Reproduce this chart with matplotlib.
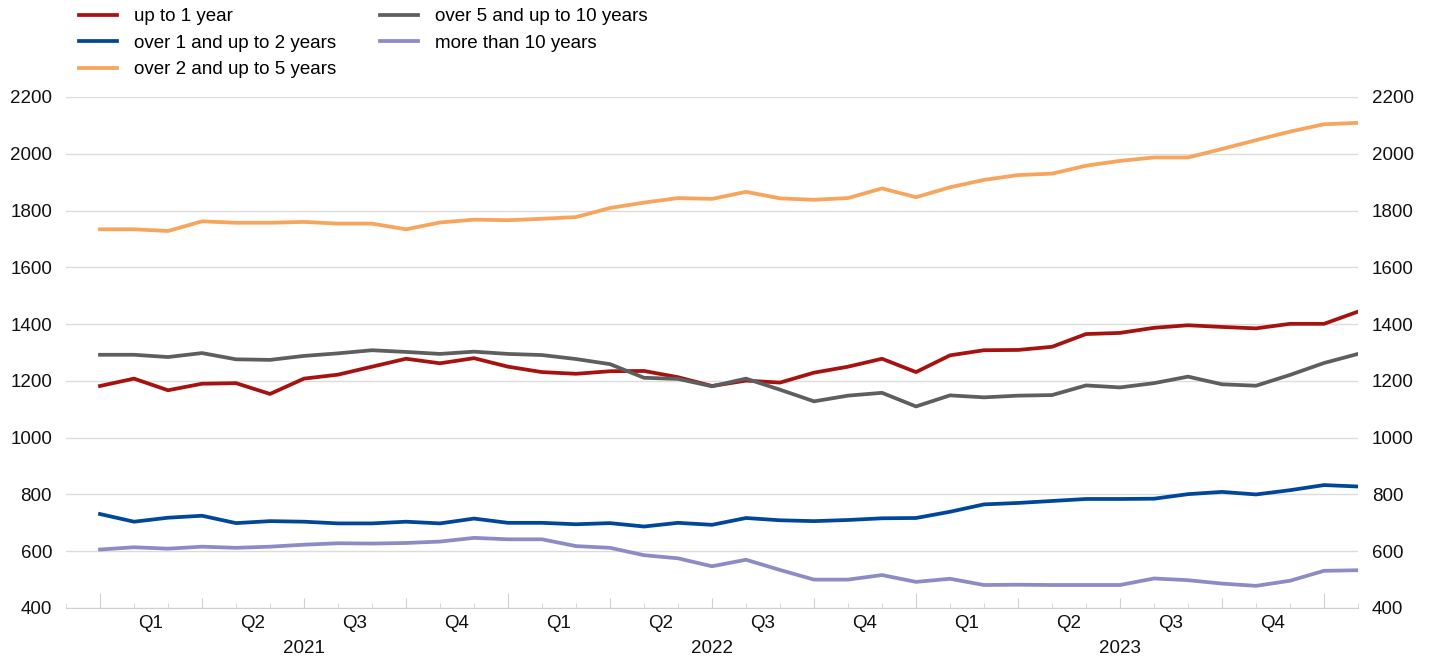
import matplotlib
matplotlib.use("Agg")
import matplotlib.pyplot as plt
import matplotlib.transforms as mtransforms

plt.rcParams['font.family'] = ['Liberation Sans', 'DejaVu Sans']

# monthly observations, index 0 = first month of 2021
up_to_1 = [1182, 1208, 1167, 1190, 1192, 1154, 1208, 1222, 1250, 1278,
           1262, 1280, 1250, 1231, 1225, 1234, 1235, 1213, 1182, 1201,
           1194, 1229, 1250, 1278, 1231, 1290, 1308, 1309, 1320, 1365,
           1369, 1387, 1396, 1390, 1385, 1401, 1401, 1444]
over_1_to_2 = [731, 704, 718, 725, 699, 706, 704, 698, 698, 704,
               698, 715, 700, 700, 695, 699, 687, 700, 693, 717,
               709, 706, 710, 716, 717, 739, 765, 770, 777, 784,
               784, 785, 801, 809, 800, 815, 833, 828]
over_2_to_5 = [1734, 1734, 1728, 1762, 1757, 1757, 1760, 1754, 1754, 1734,
               1758, 1768, 1766, 1771, 1777, 1809, 1828, 1844, 1841, 1866,
               1843, 1838, 1844, 1878, 1847, 1882, 1908, 1925, 1930, 1958,
               1975, 1987, 1987, 2017, 2048, 2078, 2104, 2109]
over_5_to_10 = [1292, 1292, 1284, 1298, 1276, 1274, 1288, 1297, 1308, 1302,
                1295, 1303, 1295, 1291, 1277, 1259, 1211, 1207, 1181, 1208,
                1169, 1128, 1148, 1158, 1110, 1149, 1142, 1148, 1150, 1184,
                1177, 1192, 1215, 1188, 1183, 1221, 1263, 1295]
over_10 = [606, 614, 609, 616, 612, 616, 623, 628, 627, 629,
           634, 647, 642, 642, 618, 612, 586, 575, 547, 570,
           534, 500, 500, 516, 492, 503, 481, 482, 481, 481,
           481, 504, 498, 486, 478, 496, 531, 533]

series = [
    ("up to 1 year", up_to_1, "#a6120f"),
    ("over 1 and up to 2 years", over_1_to_2, "#00479a"),
    ("over 2 and up to 5 years", over_2_to_5, "#f7a45c"),
    ("over 5 and up to 10 years", over_5_to_10, "#5e5e5e"),
    ("more than 10 years", over_10, "#8b8bc6"),
]

years = ["2021", "2022", "2023"]
quarters = ["Q1", "Q2", "Q3", "Q4"]

months = list(range(len(up_to_1)))

fig = plt.figure(figsize=(14.37, 6.6), dpi=100)
ax = fig.add_axes([66 / 1437, 1 - 608 / 660, (1358 - 66) / 1437, (608 - 97) / 660])

for label, vals, col in series:
    ax.plot(months, vals, color=col, lw=2.7, label=label)

ax.set_xlim(-1, 37)
ax.set_ylim(400, 2200)
ax.set_yticks(range(400, 2201, 200))
ax.grid(axis='y', color='#dcdcdc', lw=1)
ax.set_axisbelow(True)

for s in ['top', 'left', 'right']:
    ax.spines[s].set_visible(False)
ax.spines['bottom'].set_color('#d0d0d0')

ax.tick_params(axis='y', length=0, labelsize=13.5, pad=10,
               labelleft=True, labelright=True)
for t in ax.get_yticklabels():
    t.set_color('#111111')

# x ticks: years (tall), quarters (medium), months (short)
ax.set_xticks([0, 12, 24, 36])
ax.set_xticklabels([])
ax.set_xticks(range(-1, 38), minor=True)
ax.tick_params(axis='x', which='major', direction='in', length=11, color='#d0d0d0')
ax.tick_params(axis='x', which='minor', direction='in', length=3.5, color='#d0d0d0')
sec = ax.secondary_xaxis('bottom')
sec.set_xticks([q for q in range(3, 36, 3) if q % 12 != 0])
sec.set_xticklabels([])
sec.tick_params(direction='in', length=7, color='#d0d0d0')
sec.spines['bottom'].set_visible(False)

trans = mtransforms.blended_transform_factory(ax.transData, ax.transAxes)
for yi, yr in enumerate(years):
    for qi, q in enumerate(quarters):
        xc = yi * 12 + qi * 3 + 1.5
        ax.annotate(q, (xc, 0), xycoords=trans, xytext=(0, -11.3),
                    textcoords='offset points', ha='center', va='center',
                    fontsize=13.5, color='#111111')
    ax.annotate(yr, (yi * 12 + 6, 0), xycoords=trans, xytext=(0, -29.3),
                textcoords='offset points', ha='center', va='center',
                fontsize=13.5, color='#111111')

fig.legend(loc='upper left', bbox_to_anchor=(79 / 1437, 1 - 8 / 660),
           ncol=2, frameon=False, fontsize=13.5, handlelength=2.05,
           handletextpad=0.9, columnspacing=2.3, labelspacing=0.5,
           borderpad=0, borderaxespad=0)

fig.savefig("out.png", dpi=100)
